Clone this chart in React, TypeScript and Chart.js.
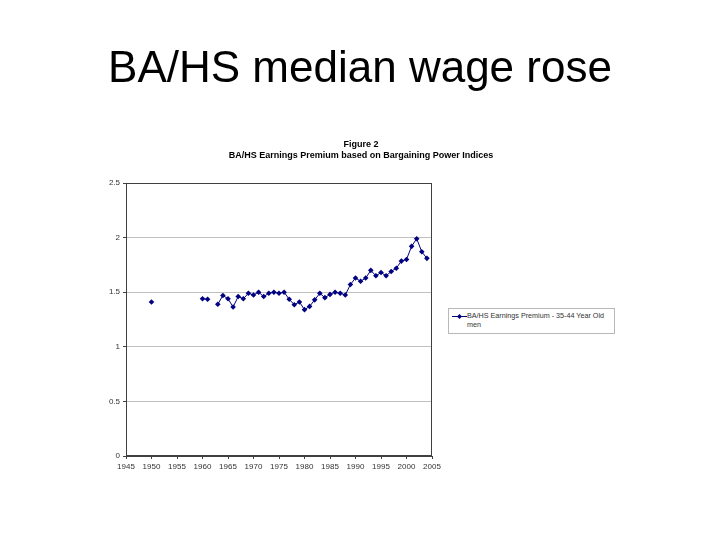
import React, { useRef, useEffect } from 'react';
import { Chart, registerables } from 'chart.js';
Chart.register(...registerables);

const FONT = '"Liberation Sans", Arial, sans-serif';

// BA/HS earnings premium, 35-44 year old men (null = no data that year)
const years = [
  1950, 1951, 1952, 1953, 1954, 1955, 1956, 1957, 1958, 1959,
  1960, 1961, 1962, 1963, 1964, 1965, 1966, 1967, 1968, 1969,
  1970, 1971, 1972, 1973, 1974, 1975, 1976, 1977, 1978, 1979,
  1980, 1981, 1982, 1983, 1984, 1985, 1986, 1987, 1988, 1989,
  1990, 1991, 1992, 1993, 1994, 1995, 1996, 1997, 1998, 1999,
  2000, 2001, 2002, 2003, 2004,
];
const premium = [
  1.41, null, null, null, null, null, null, null, null, null,
  1.44, 1.435, null, 1.39, 1.47, 1.44, 1.365, 1.46, 1.44, 1.49,
  1.475, 1.5, 1.46, 1.49, 1.5, 1.49, 1.5, 1.435, 1.385, 1.41,
  1.34, 1.37, 1.43, 1.49, 1.45, 1.48, 1.5, 1.49, 1.475, 1.57,
  1.63, 1.6, 1.63, 1.7, 1.65, 1.68, 1.65, 1.69, 1.72, 1.785,
  1.8, 1.92, 1.99, 1.87, 1.81,
];
const xTicks = [1945, 1950, 1955, 1960, 1965, 1970, 1975, 1980, 1985, 1990, 1995, 2000, 2005];
const yTicks = [0, 0.5, 1, 1.5, 2, 2.5];

const seriesLabel = 'BA/HS Earnings Premium - 35-44 Year Old men';
const navy = '#000080';

const plotBorder = {
  id: 'plotBorder',
  beforeDatasetsDraw(chart: any) {
    const { ctx, chartArea } = chart;
    const l = Math.round(chartArea.left) + 0.5;
    const t = Math.round(chartArea.top) + 0.5;
    const r = Math.round(chartArea.right) - 0.5;
    const b = Math.round(chartArea.bottom) - 0.5;
    ctx.save();
    ctx.strokeStyle = '#404040';
    ctx.lineWidth = 1;
    ctx.strokeRect(l, t, r - l, b - t);
    ctx.restore();
  },
};

const WageChart: React.FC = () => {
  const canvasRef = useRef<HTMLCanvasElement | null>(null);
  const chartRef = useRef<Chart | null>(null);

  useEffect(() => {
    if (chartRef.current) chartRef.current.destroy();
    const ctx = canvasRef.current?.getContext('2d');
    if (!ctx) return;

    chartRef.current = new Chart(ctx, {
      type: 'line',
      data: {
        datasets: [
          {
            label: seriesLabel,
            data: years.map((y, i) => ({ x: y, y: premium[i] })) as any,
            borderColor: navy,
            backgroundColor: navy,
            borderWidth: 1,
            pointStyle: 'rectRot',
            pointRadius: 2.8,
            pointBorderWidth: 0,
            pointBackgroundColor: navy,
            spanGaps: false,
            tension: 0,
          },
        ],
      },
      plugins: [plotBorder],
      options: {
        responsive: false,
        animation: false,
        layout: { padding: { left: 100, right: 98, top: 139, bottom: 0 } },
        plugins: {
          legend: { display: false },
          tooltip: { enabled: false },
          title: {
            display: true,
            text: 'Figure 2',
            color: '#000',
            font: { family: FONT, size: 9, weight: 'bold' },
            padding: { top: 0, bottom: 0 },
          },
          subtitle: {
            display: true,
            text: 'BA/HS Earnings Premium based on Bargaining Power Indices',
            color: '#000',
            font: { family: FONT, size: 9, weight: 'bold' },
            padding: { top: 0, bottom: 22.4 },
          },
        },
        scales: {
          x: {
            type: 'linear',
            min: 1945,
            max: 2005,
            afterBuildTicks: (s: any) => {
              s.ticks = xTicks.map((v) => ({ value: v }));
            },
            afterFit: (s: any) => {
              s.height = 84;
            },
            grid: { drawOnChartArea: false, tickLength: 3, tickColor: '#404040' },
            border: { display: true, color: '#404040' },
            ticks: {
              autoSkip: false,
              maxRotation: 0,
              padding: 3,
              color: '#333',
              font: { family: FONT, size: 8 },
              callback: (v: any) => String(v),
            },
          },
          y: {
            min: 0,
            max: 2.5,
            afterBuildTicks: (s: any) => {
              s.ticks = yTicks.map((v) => ({ value: v }));
            },
            afterFit: (s: any) => {
              s.width = 26;
            },
            grid: { color: '#c0c0c0', tickLength: 3, tickColor: '#404040' },
            border: { display: true, color: '#404040' },
            ticks: {
              padding: 3,
              color: '#333',
              font: { family: FONT, size: 8 },
              callback: (v: any) => String(v),
            },
          },
          // empty right-hand strip reserved for the legend box
          y2: {
            position: 'right',
            display: true,
            grid: { display: false, drawTicks: false },
            border: { display: false },
            ticks: { display: false },
            afterFit: (s: any) => {
              s.width = 190;
            },
          },
        },
      },
    });

    return () => {
      if (chartRef.current) {
        chartRef.current.destroy();
        chartRef.current = null;
      }
    };
  }, []);

  return <canvas ref={canvasRef} width={720} height={540} style={{ position: 'absolute', left: 0, top: 0 }} />;
};

const App: React.FC = () => {
  return (
    <div style={{ position: 'fixed', left: 0, top: 0, width: 720, height: 540, background: '#fff', fontFamily: FONT }}>
      <WageChart />
      <div
        style={{
          position: 'absolute',
          left: 0,
          top: 45,
          width: 720,
          textAlign: 'center',
          fontSize: 44,
          lineHeight: '44px',
          color: '#000',
        }}
      >
        BA/HS median wage rose
      </div>
      <div
        style={{
          position: 'absolute',
          left: 448,
          top: 308,
          width: 167,
          height: 26,
          boxSizing: 'border-box',
          border: '1px solid #b8b8b8',
          background: '#fff',
        }}
      >
        <svg width={18} height={12} style={{ position: 'absolute', left: 1, top: 2 }}>
          <line x1={2} y1={5.5} x2={17} y2={5.5} stroke={navy} strokeWidth={1} />
          <polygon points="9.5,3 12,5.5 9.5,8 7,5.5" fill={navy} />
        </svg>
        <div
          style={{
            position: 'absolute',
            left: 18,
            top: 2,
            fontSize: 7.2,
            lineHeight: '9px',
            color: '#333',
            whiteSpace: 'nowrap',
          }}
        >
          BA/HS Earnings Premium - 35-44 Year Old
          <br />
          men
        </div>
      </div>
    </div>
  );
};

export default App;
